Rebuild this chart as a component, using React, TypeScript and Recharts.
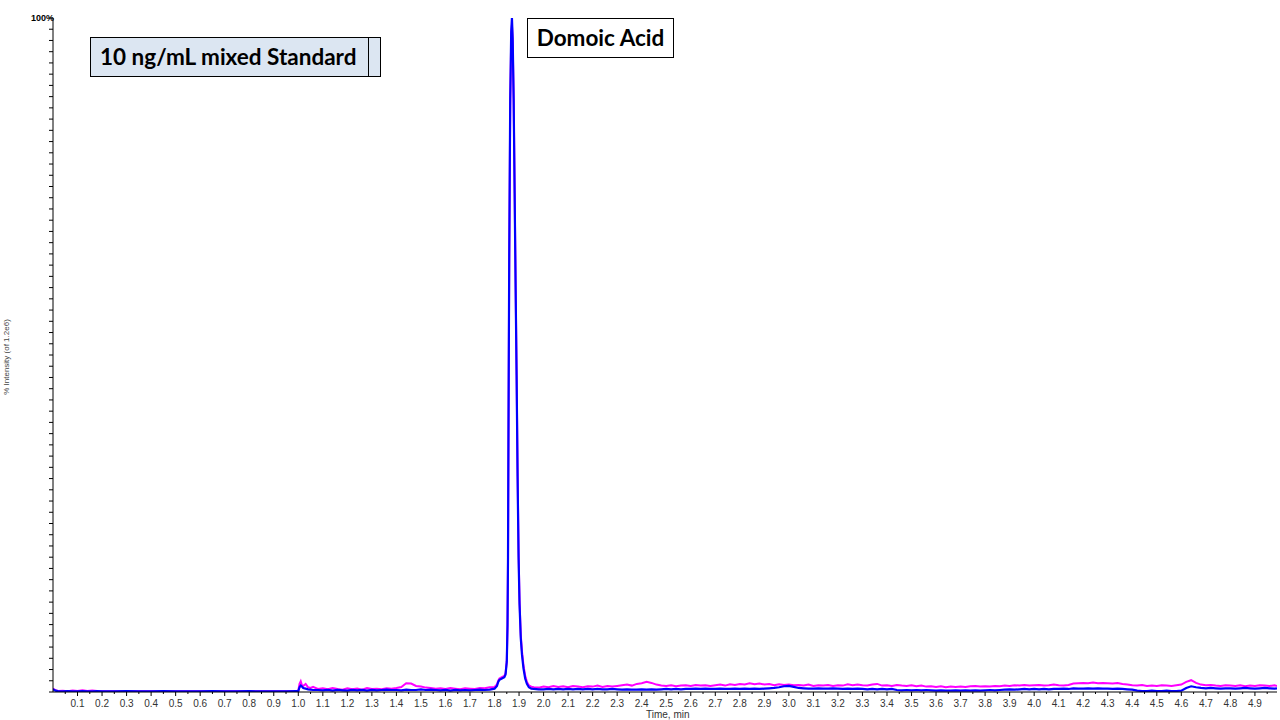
import { LineChart, Line, XAxis, YAxis } from "recharts";

// time axis (min), split into segments: flat start, post-1.0 noise, the peak, tail
const timesA = [0, 0.01, 0.02, 0.04, 0.06, 0.08, 0.1, 0.12, 0.14, 0.16, 0.18, 0.2, 0.25, 0.3, 0.35, 0.4, 0.45, 0.5, 0.55, 0.6, 0.65, 0.7, 0.75, 0.8, 0.85, 0.9, 0.95, 0.99];
const magentaA = [0.5, 0.25, 0.15, 0.2, 0.12, 0.22, 0.15, 0.25, 0.14, 0.22, 0.15, 0.12, 0.1, 0.1, 0.1, 0.1, 0.1, 0.1, 0.1, 0.1, 0.1, 0.1, 0.1, 0.1, 0.1, 0.1, 0.1, 0.1];
const blueA = [0.4, 0.2, 0.12, 0.1, 0.12, 0.1, 0.1, 0.12, 0.1, 0.1, 0.12, 0.1, 0.1, 0.12, 0.1, 0.1, 0.12, 0.1, 0.1, 0.1, 0.12, 0.1, 0.1, 0.12, 0.1, 0.1, 0.1, 0.12];

const timesB = [1.0, 1.005, 1.01, 1.015, 1.02, 1.03, 1.04, 1.05, 1.06,
  1.08, 1.1, 1.12, 1.14, 1.16, 1.18, 1.2, 1.22, 1.24, 1.26, 1.28, 1.3, 1.32, 1.34, 1.36, 1.38, 1.4, 1.42,
  1.44, 1.46, 1.48, 1.5, 1.52, 1.54, 1.56, 1.58, 1.6, 1.62, 1.64, 1.66, 1.68, 1.7, 1.72, 1.74, 1.76, 1.78];
const magentaB = [0.2, 1.2, 1.6, 1.0, 0.9, 1.2, 0.7, 0.6, 0.75,
  0.45, 0.55, 0.4, 0.6, 0.45, 0.35, 0.55, 0.4, 0.5, 0.35, 0.6, 0.45, 0.5, 0.4, 0.55, 0.5, 0.6, 0.75,
  1.3, 1.25, 0.9, 0.8, 0.65, 0.6, 0.5, 0.55, 0.45, 0.6, 0.5, 0.4, 0.55, 0.5, 0.45, 0.6, 0.55, 0.7];
const blueB = [0.12, 0.7, 0.95, 0.8, 0.6, 0.5, 0.4, 0.35, 0.3,
  0.3, 0.25, 0.3, 0.2, 0.3, 0.25, 0.2, 0.3, 0.25, 0.3, 0.2, 0.3, 0.25, 0.3, 0.35, 0.3, 0.3, 0.25,
  0.35, 0.3, 0.3, 0.4, 0.3, 0.35, 0.3, 0.25, 0.3, 0.2, 0.3, 0.25, 0.3, 0.25, 0.3, 0.35, 0.3, 0.35];

const timesC = [1.8, 1.81, 1.815, 1.82, 1.83, 1.84, 1.845, 1.85, 1.853, 1.855,
  1.857, 1.86, 1.864, 1.868, 1.871, 1.874, 1.878, 1.882, 1.886, 1.89,
  1.894, 1.898, 1.902, 1.907, 1.912, 1.918, 1.925, 1.932, 1.94, 1.95];
const magentaC = [0.75, 1.1, 1.7, 2.0, 2.2, 2.4, 2.8, 4.6, 9.8, 19.5,
  39, 64, 87, 97, 99, 96.5, 88, 74.5, 60.5, 47.5,
  33, 21, 13.5, 8.5, 6, 4, 2.4, 1.5, 1.0, 0.8];
const blueC = [0.5, 0.9, 1.5, 1.8, 2.0, 2.2, 2.6, 4.5, 10, 20,
  40, 65, 88, 98, 100, 97, 88, 74, 60, 47,
  32, 20, 13, 8, 5.5, 3.5, 2, 1.2, 0.7, 0.5];

const timesD = [1.96, 1.98,
  2.0, 2.02, 2.04, 2.06, 2.08, 2.1, 2.12, 2.14, 2.16, 2.18,
  2.2, 2.22, 2.24, 2.26, 2.28, 2.3, 2.32, 2.34, 2.36, 2.38,
  2.4, 2.42, 2.44, 2.46, 2.48, 2.5, 2.52, 2.54, 2.56, 2.58,
  2.6, 2.62, 2.64, 2.66, 2.68, 2.7, 2.72, 2.74, 2.76, 2.78,
  2.8, 2.82, 2.84, 2.86, 2.88, 2.9, 2.92, 2.94, 2.96, 2.98,
  3.0, 3.02, 3.04, 3.06, 3.08, 3.1, 3.12, 3.14, 3.16, 3.18,
  3.2, 3.22, 3.24, 3.26, 3.28, 3.3, 3.32, 3.34, 3.36, 3.38,
  3.4, 3.42, 3.44, 3.46, 3.48, 3.5, 3.52, 3.54, 3.56, 3.58,
  3.6, 3.62, 3.64, 3.66, 3.68, 3.7, 3.72, 3.74, 3.76, 3.78,
  3.8, 3.82, 3.84, 3.86, 3.88, 3.9, 3.92, 3.94, 3.96, 3.98,
  4.0, 4.02, 4.04, 4.06, 4.08, 4.1, 4.12, 4.14, 4.16, 4.18,
  4.2, 4.22, 4.24, 4.26, 4.28, 4.3, 4.32, 4.34, 4.36, 4.38,
  4.4, 4.42, 4.44, 4.46, 4.48, 4.5, 4.52, 4.54, 4.56, 4.58,
  4.6, 4.62, 4.64, 4.66, 4.68, 4.7, 4.72, 4.74, 4.76, 4.78,
  4.8, 4.82, 4.84, 4.86, 4.88, 4.9, 4.92, 4.94, 4.96, 4.98,
  4.99];
const magentaD = [0.7, 0.65,
  0.8, 0.7, 0.9, 0.75, 0.85, 0.7, 0.9, 0.8, 0.7, 0.85,
  0.8, 0.95, 0.75, 0.9, 0.8, 0.9, 1.0, 1.1, 0.95, 1.2,
  1.3, 1.5, 1.35, 1.1, 0.95, 0.9, 1.0, 0.85, 0.95, 1.0,
  0.9, 1.05, 0.95, 1.0, 0.9, 1.0, 1.1, 0.95, 1.15, 1.05,
  1.2, 1.1, 1.3, 1.15, 1.25, 1.1, 1.2, 1.0, 1.15, 1.05,
  1.1, 1.0, 1.05, 0.95, 1.1, 0.9, 1.0, 0.95, 1.05, 0.9,
  1.0, 0.95, 1.15, 1.0, 1.1, 1.0, 0.95, 1.1, 1.2, 0.95,
  1.0, 0.9, 1.05, 0.95, 0.9, 1.0, 0.85, 0.95, 0.8, 0.85,
  0.75, 0.85, 0.7, 0.8, 0.75, 0.8, 0.75, 0.85, 0.9, 0.8,
  0.85, 0.8, 0.9, 0.85, 0.95, 0.9, 1.0, 0.95, 1.05, 0.95,
  1.0, 1.05, 0.95, 1.0, 1.1, 1.0, 0.95, 1.05, 1.25, 1.3,
  1.35, 1.3, 1.4, 1.3, 1.35, 1.3, 1.25, 1.35, 1.2, 1.1,
  1.0, 0.95, 1.05, 0.9, 0.95, 0.9, 1.0, 0.95, 0.9, 1.0,
  1.1, 1.5, 1.75, 1.35, 1.1, 1.0, 1.05, 0.95, 0.9, 1.0,
  0.95, 0.9, 1.0, 0.85, 0.95, 0.9, 1.0, 0.95, 0.9, 1.0,
  0.9];
const blueD = [0.45, 0.4,
  0.4, 0.45, 0.4, 0.45, 0.4, 0.45, 0.4, 0.45, 0.4, 0.45,
  0.4, 0.45, 0.4, 0.4, 0.45, 0.4, 0.35, 0.4, 0.35, 0.35,
  0.4, 0.35, 0.4, 0.35, 0.4, 0.45, 0.4, 0.45, 0.4, 0.45,
  0.45, 0.5, 0.45, 0.5, 0.45, 0.45, 0.5, 0.45, 0.45, 0.5,
  0.45, 0.5, 0.45, 0.5, 0.45, 0.5, 0.55, 0.6, 0.7, 0.85,
  0.9, 0.75, 0.6, 0.55, 0.5, 0.5, 0.55, 0.5, 0.5, 0.55,
  0.5, 0.45, 0.5, 0.45, 0.5, 0.45, 0.4, 0.45, 0.4, 0.45,
  0.4, 0.45, 0.3, 0.25, 0.3, 0.25, 0.3, 0.25, 0.3, 0.25,
  0.2, 0.25, 0.2, 0.2, 0.25, 0.2, 0.25, 0.2, 0.25, 0.2,
  0.25, 0.3, 0.25, 0.3, 0.35, 0.4, 0.35, 0.4, 0.45, 0.4,
  0.45, 0.4, 0.45, 0.4, 0.45, 0.45, 0.5, 0.45, 0.55, 0.5,
  0.5, 0.55, 0.5, 0.55, 0.5, 0.5, 0.45, 0.5, 0.45, 0.4,
  0.35, 0.2, 0.15, 0.15, 0.2, 0.15, 0.15, 0.2, 0.15, 0.15,
  0.2, 0.6, 0.85, 0.7, 0.6, 0.55, 0.6, 0.55, 0.5, 0.55,
  0.55, 0.5, 0.55, 0.6, 0.55, 0.5, 0.55, 0.6, 0.55, 0.5,
  0.55];

const xTickLabels = ["0.1", "0.2", "0.3", "0.4", "0.5", "0.6", "0.7", "0.8", "0.9", "1.0",
  "1.1", "1.2", "1.3", "1.4", "1.5", "1.6", "1.7", "1.8", "1.9", "2.0",
  "2.1", "2.2", "2.3", "2.4", "2.5", "2.6", "2.7", "2.8", "2.9", "3.0",
  "3.1", "3.2", "3.3", "3.4", "3.5", "3.6", "3.7", "3.8", "3.9", "4.0",
  "4.1", "4.2", "4.3", "4.4", "4.5", "4.6", "4.7", "4.8", "4.9"];
const yTopLabel = "100%";

const times = [...timesA, ...timesB, ...timesC, ...timesD];
const magenta = [...magentaA, ...magentaB, ...magentaC, ...magentaD];
const blue = [...blueA, ...blueB, ...blueC, ...blueD];
const data = times.map((t, i) => ({ t, magenta: magenta[i], blue: blue[i] }));

// major ticks at the labels, minor ones halfway between
const majorTicks = xTickLabels.map(Number);
const xTicks = [0.05, ...majorTicks.flatMap((v) => [v, Math.round((v + 0.05) * 100) / 100])];
const yTicks = Array.from({ length: 61 }, (_, k) => (k * 100) / 60);

const axisFont = "'Liberation Sans', Arial, sans-serif";
const boxFont = "Lato, 'Open Sans', sans-serif";

const XTick = (props: any) => {
  const { x, y, payload } = props;
  const v = payload.value;
  const major = Math.abs(v * 10 - Math.round(v * 10)) < 1e-6;
  return (
    <g>
      <line x1={x} x2={x} y1={y} y2={y + (major ? 4 : 2)} stroke="#000" />
      {major && (
        <text x={x} y={y + 15} textAnchor="middle" fontSize={10} fontFamily={axisFont} fill="#333">
          {v.toFixed(1)}
        </text>
      )}
    </g>
  );
};

const YTick = (props: any) => {
  const { x, y, payload } = props;
  return (
    <g>
      <line x1={x - 4} x2={x} y1={y} y2={y} stroke="#000" />
      {payload.value === 100 && (
        <text x={x + 1} y={y + 3} textAnchor="end" fontSize={9} fontWeight="bold" fontFamily={axisFont} fill="#000">
          {yTopLabel}
        </text>
      )}
    </g>
  );
};

export default function App() {
  return (
    <div style={{ position: "absolute", left: 0, top: 0, width: 1280, height: 720, background: "#fff" }}>
      <LineChart width={1280} height={720} data={data} margin={{ top: 18, right: 3, left: 0, bottom: 0 }}>
        <XAxis
          dataKey="t"
          type="number"
          domain={[0, 4.99]}
          ticks={xTicks}
          interval={0}
          tick={<XTick />}
          tickLine={false}
          tickSize={0}
          tickMargin={0}
          height={28}
          axisLine={{ stroke: "#000" }}
          allowDataOverflow
        />
        <YAxis
          type="number"
          domain={[0, 100]}
          ticks={yTicks}
          interval={0}
          tick={<YTick />}
          tickLine={false}
          tickSize={0}
          tickMargin={0}
          width={53}
          axisLine={{ stroke: "#000" }}
          allowDataOverflow
        />
        <Line type="linear" dataKey="magenta" stroke="#ff00ff" strokeWidth={2} dot={false} activeDot={false} isAnimationActive={false} />
        <Line type="linear" dataKey="blue" stroke="#0000ff" strokeWidth={2.2} dot={false} activeDot={false} isAnimationActive={false} />
      </LineChart>

      <div style={{ position: "absolute", left: 646, top: 709, fontFamily: axisFont, fontSize: 10, color: "#333" }}>
        Time, min
      </div>
      <div
        style={{
          position: "absolute", left: 6, top: 357, fontFamily: axisFont, fontSize: 8, color: "#444",
          transform: "translate(-50%, -50%) rotate(-90deg)", whiteSpace: "nowrap",
        }}
      >
        % Intensity (of 1.2e6)
      </div>

      <div
        style={{
          position: "absolute", left: 90, top: 37, width: 291, height: 40, background: "#dce6f2",
          border: "1px solid #000", fontFamily: boxFont, fontWeight: "bold", fontSize: 22.5,
          lineHeight: "38px", paddingLeft: 9, boxSizing: "border-box", color: "#000",
        }}
      >
        10 ng/mL mixed Standard
        <div style={{ position: "absolute", left: 277, top: 0, width: 1, height: 38, background: "#000" }} />
      </div>
      <div
        style={{
          position: "absolute", left: 527, top: 18, width: 147, height: 40, background: "#fff",
          border: "1px solid #000", fontFamily: boxFont, fontWeight: "bold", fontSize: 22.5,
          lineHeight: "38px", textAlign: "center", boxSizing: "border-box", color: "#000",
        }}
      >
        Domoic Acid
      </div>
    </div>
  );
}
